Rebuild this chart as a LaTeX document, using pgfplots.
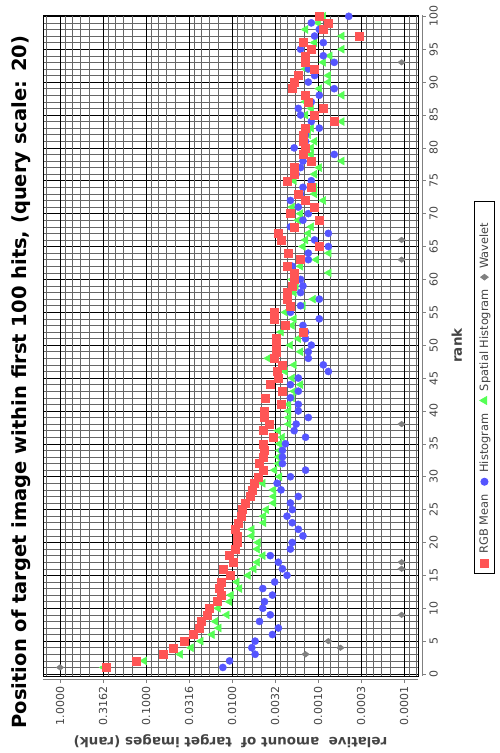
\documentclass[border=0pt]{standalone}
\usepackage{pgfplots}
\pgfplotsset{compat=1.18}
\usepackage{pgfplotstable}
\usepackage{fontspec}
\setmainfont{DejaVu Sans}

\definecolor{rgbred}{HTML}{FF5555}
\definecolor{histblue}{HTML}{5555FF}
\definecolor{spatgreen}{HTML}{55FF55}
\definecolor{wavegray}{HTML}{808080}
\definecolor{labelgray}{HTML}{444444}

% relative amount of target images per rank
\pgfplotstableread{
rank value
1 0.29
2 0.132
3 0.064
4 0.048
5 0.036
6 0.0286
7 0.024
8 0.0228
9 0.0195
10 0.0184
11 0.0151
12 0.0135
13 0.0143
14 0.0133
15 0.0105
16 0.0128
17 0.0097
18 0.0107
19 0.0091
20 0.0087
21 0.0087
22 0.0091
23 0.0084
24 0.0079
25 0.0077
26 0.0070
27 0.0062
28 0.0058
29 0.0056
30 0.0050
31 0.0044
32 0.0048
33 0.0044
34 0.0042
35 0.0043
36 0.0033
37 0.0044
38 0.0037
39 0.0042
40 0.0042
41 0.0027
42 0.0041
43 0.0026
44 0.0036
45 0.0029
46 0.0030
47 0.0026
48 0.0032
49 0.0031
50 0.0031
51 0.0031
52 0.0015
53 0.0024
54 0.0032
55 0.0032
56 0.0021
57 0.0023
58 0.0023
59 0.0020
60 0.0019
61 0.0019
62 0.0023
63 0.0016
64 0.0022
65 0.00097
66 0.0027
67 0.0029
68 0.0019
69 0.00097
70 0.0021
71 0.0011
72 0.0014
73 0.0017
74 0.0012
75 0.0023
76 0.0019
77 0.0019
78 0.0012
79 0.0015
80 0.0014
81 0.0015
82 0.0015
83 0.0014
84 0.00065
85 0.0011
86 0.00087
87 0.0013
88 0.0014
89 0.0020
90 0.0019
91 0.0017
92 0.0011
93 0.0014
94 0.0014
95 0.0012
96 0.0015
97 0.00033
98 0.00087
99 0.00076
100 0.00097
}\rgbmean

\pgfplotstableread{
rank value
1 0.0128
2 0.0107
3 0.0054
4 0.0059
5 0.0054
6 0.0034
7 0.0029
8 0.0048
9 0.0036
10 0.0044
11 0.0042
12 0.0034
13 0.0044
14 0.0032
15 0.0023
16 0.0026
17 0.0029
18 0.0036
19 0.0021
20 0.0020
21 0.0015
22 0.0017
23 0.0020
24 0.0023
25 0.0020
26 0.0021
27 0.0017
28 0.0027
29 0.0030
30 0.0021
31 0.0014
32 0.0026
33 0.0026
34 0.0026
35 0.0024
36 0.0014
37 0.0019
38 0.0018
39 0.0013
40 0.0017
41 0.0017
42 0.0021
43 0.0017
44 0.0021
45 0.0017
46 0.00076
47 0.00087
48 0.0013
49 0.0013
50 0.0012
51 0.0014
52 0.0014
53 0.0015
54 0.00097
55 0.0021
56 0.0016
57 0.00097
58 0.0016
59 0.0015
60 0.0016
61 0.0019
62 0.0020
63 0.0013
64 0.0013
65 0.00076
66 0.0011
67 0.00076
68 0.0021
69 0.0015
70 0.0013
71 0.0017
72 0.0021
73 0.0016
74 0.0015
75 0.0012
76 0.0018
77 0.0016
78 0.0015
79 0.00065
80 0.0019
81 0.0014
82 0.0014
83 0.00097
84 0.0012
85 0.0016
86 0.0017
87 0.0012
88 0.00097
89 0.00065
90 0.0013
91 0.0011
92 0.0013
93 0.00065
94 0.00087
95 0.0016
96 0.00087
97 0.0011
98 0.00097
99 0.0012
100 0.00044
}\histogram

\pgfplotstableread{
rank value
1 0.31
2 0.105
3 0.040
4 0.030
5 0.0231
6 0.0171
7 0.0143
8 0.0156
9 0.0115
10 0.0145
11 0.0107
12 0.0103
13 0.0082
14 0.0088
15 0.0065
16 0.0056
17 0.0051
18 0.0044
19 0.0051
20 0.0050
21 0.0059
22 0.0059
23 0.0043
24 0.0043
25 0.0040
26 0.0033
27 0.0033
28 0.0033
29 0.0044
30 0.0028
31 0.0032
32 0.0029
33 0.0029
34 0.0028
35 0.0028
36 0.0026
37 0.0029
38 0.0022
39 0.0022
40 0.0022
41 0.0022
42 0.0020
43 0.0019
44 0.0016
45 0.0020
46 0.0024
47 0.0019
48 0.0038
49 0.0016
50 0.0021
51 0.0017
52 0.0027
53 0.0020
54 0.0019
55 0.0024
56 0.0015
57 0.00114
58 0.0019
59 0.0018
60 0.0020
61 0.00075
62 0.0016
63 0.00105
64 0.00075
65 0.0015
66 0.0014
67 0.0013
68 0.0012
69 0.0017
70 0.0016
71 0.0020
72 0.00087
73 0.0011
74 0.0011
75 0.0019
76 0.0011
77 0.00097
78 0.00053
79 0.0012
80 0.0012
81 0.0011
82 0.0013
83 0.0012
84 0.00053
85 0.0014
86 0.0012
87 0.0014
88 0.00053
89 0.00097
90 0.00076
91 0.00076
92 0.0014
93 0.00087
94 0.00073
95 0.00053
96 0.0011
97 0.00053
98 0.0014
99 0.0010
100 0.00087
}\spatial

\pgfplotstableread{
rank value
1 1.0
3 0.0014
4 0.00055
5 0.00076
9 0.000107
16 0.000107
17 0.000107
38 0.000107
63 0.000107
66 0.000107
93 0.000107
}\wavelet

\begin{document}
\begin{tikzpicture}[rotate=90, transform shape]
\path[use as bounding box] (-77pt,-82pt) rectangle (676pt,418pt);
\begin{axis}[
  at={(0pt,0pt)}, anchor=south west,
  scale only axis, width=661pt, height=375pt,
  clip=false,
  xmin=-0.3, xmax=100.2,
  ymode=log, ymin=6.9e-5, ymax=1.58,
  axis x line*=bottom, axis y line*=left,
  axis x line shift=4pt, axis y line shift=3pt,
  axis line style={draw=wavegray, line width=0.6pt},
  xtick={0,5,...,100}, minor x tick num=4,
  ytick={1,0.316228,0.1,0.0316228,0.01,0.00316228,0.001,0.000316228,0.0001},
  yticklabels={1.0000,0.3162,0.1000,0.0316,0.0100,0.0032,0.0010,0.0003,0.0001},
  minor ytick={1.43246,0.86325,0.72649,0.58974,0.45298,
    0.27298,0.22974,0.18649,0.14325,
    0.086325,0.072649,0.058974,0.045298,
    0.027298,0.022974,0.018649,0.014325,
    0.0086325,0.0072649,0.0058974,0.0045298,
    0.0027298,0.0022974,0.0018649,0.0014325,
    0.00086325,0.00072649,0.00058974,0.00045298,
    0.00027298,0.00022974,0.00018649,0.00014325,
    0.000086325,0.000072649},
  grid=both,
  major grid style={draw=black, line width=0.55pt},
  minor grid style={draw=black!60, line width=0.55pt},
  tick align=outside,
  major tick length=4pt, minor tick length=0pt,
  tick style={draw=wavegray, line width=0.6pt},
  /pgf/number format/assume math mode=true,
  ticklabel style={font=\fontsize{11}{13}\selectfont, text=labelgray},
  legend columns=4,
  reverse legend,
  legend style={at={(0.4365,-0.1493)}, anchor=north, draw=black,
    line width=0.8pt, font=\fontsize{11.4}{13}\selectfont, text=labelgray,
    inner xsep=6pt, inner ysep=3pt,
    nodes={inner sep=2pt},
    /tikz/every odd column/.append style={column sep=3.5pt},
    /tikz/every even column/.append style={column sep=7pt}},
  legend image code/.code={\draw[mark repeat=2,mark phase=2]
    plot coordinates {(0pt,0pt) (5pt,0pt) (10pt,0pt)};},
]
% drawn back to front: the first series ends up on top
\addplot[only marks, mark=diamond*, mark size=3.8pt, color=wavegray,
  mark options={draw=none, fill=wavegray}] table[x=rank, y=value] {\wavelet};
\addlegendentry{Wavelet\hspace*{13pt}}
\addplot[only marks, mark=triangle*, mark size=4.6pt, color=spatgreen,
  mark options={draw=none, fill=spatgreen}] table[x=rank, y=value] {\spatial};
\addlegendentry{Spatial Histogram}
\addplot[only marks, mark=*, mark size=3.6pt, color=histblue,
  mark options={draw=none, fill=histblue}] table[x=rank, y=value] {\histogram};
\addlegendentry{Histogram}
\addplot[only marks, mark=square*, mark size=4pt, color=rgbred,
  mark options={draw=none, fill=rgbred}] table[x=rank, y=value] {\rgbmean};
\addlegendentry{RGB Mean}
\draw[black, line width=0.8pt] (rel axis cs:0,0) rectangle (rel axis cs:1,1);
\end{axis}
\node[anchor=base, font=\bfseries\fontsize{19.5}{22}\selectfont]
  at (294pt,391pt) {Position of target image within first 100 hits, (query scale: 20)};
\node[anchor=base, font=\bfseries\fontsize{13.5}{16}\selectfont, text=labelgray]
  at (330.5pt,-44pt) {rank};
\node[anchor=base, rotate=90, font=\bfseries\fontsize{13.5}{16}\selectfont, text=labelgray]
  at (-61pt,187.5pt) {relative\ \ amount of\ \ target images (rank)};
\end{tikzpicture}
\end{document}
